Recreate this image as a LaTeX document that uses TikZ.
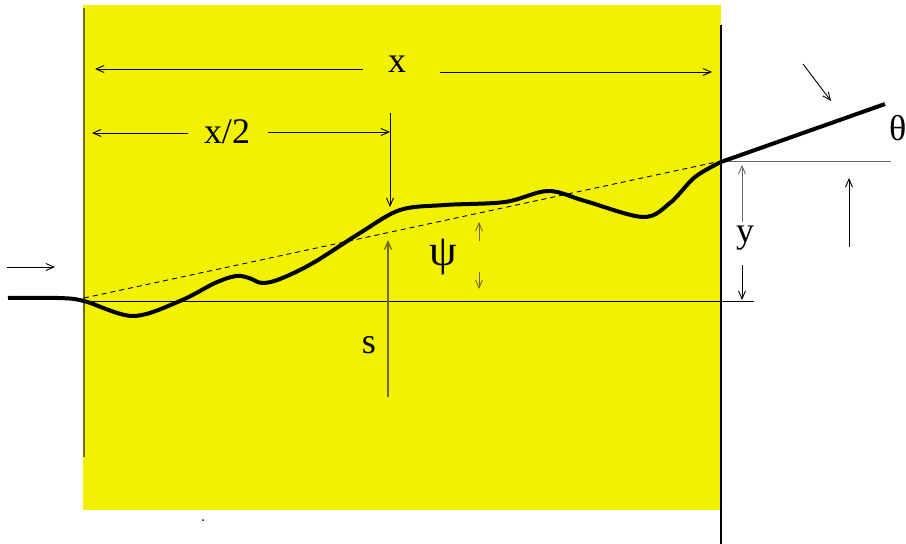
\documentclass[tikz,border=0pt]{standalone}
\usepackage{fontspec}
\setmainfont{Liberation Serif}
\usetikzlibrary{arrows.meta}
\definecolor{yel}{RGB}{242,242,0}
\definecolor{olivel}{RGB}{115,105,35}
\begin{document}
\begin{tikzpicture}[x=1pt,y=-1pt,
  dim/.style={line width=0.9pt,-{Straight Barb[length=8pt,width=7pt]}},
  lbl/.style={font=\fontsize{36}{40}\selectfont, inner sep=0pt},
  curve/.style={line width=4pt, line join=round}]
\useasboundingbox (0,0) rectangle (906,544);
% yellow panel
\fill[yel] (83,5) rectangle (721,510);
% frame lines
\coordinate (LT) at (84,8);   \coordinate (LB) at (84,457);
\coordinate (RT) at (721,25); \coordinate (RB) at (721,544);
\draw[olivel, line width=1.6pt] (LT) -- (LB);
\draw[line width=1.2pt] (RT) -- (RB);
\coordinate (BL) at (84,301); \coordinate (BR) at (754,301);
\draw[line width=1pt] (BL) -- (BR);
\coordinate (TL) at (721,161); \coordinate (TR) at (891,161);
\draw[line width=1pt, black!60] (TL) -- (TR);
\coordinate (DA) at (84,298); \coordinate (DB) at (721,161);
\draw[line width=0.9pt, dash pattern=on 5pt off 4pt] (DA) -- (DB);
% curve
\draw[curve] plot[smooth, tension=0.55] coordinates {(8,298) (58,298) (84,301) (133,316) (180,301) (215,283) (236,276) (249,278) (262,283) (280,279) (313,263) (360,233) (400,210) (445,205) (505,202) (548,191) (585,201) (643,217) (670,203) (695,177) (721,162)} -- (885,104);
% labels
\node[lbl] (tx) at (397,64) {x};
\node[lbl] (txh) at (227,132) {x/2};
\node[lbl] (ts) at (369,345) {s};
\node[lbl, font=\fontsize{44}{48}\selectfont] (tpsi) at (443,257) {ψ};
\node[lbl] (ty) at (745,238) {y};
\node[lbl, anchor=west] (tth) at (889,128) {θ};
% x dimension
\coordinate (x1a) at (363,69); \coordinate (x1b) at (95,69);
\coordinate (x2a) at (440,72); \coordinate (x2b) at (712,72);
\draw[dim] (x1a) -- (x1b);
\draw[dim] (x2a) -- (x2b);
% x/2 dimension
\coordinate (h1a) at (188,133); \coordinate (h1b) at (92,133);
\coordinate (h2a) at (268,132); \coordinate (h2b) at (390,132);
\draw[dim] (h1a) -- (h1b);
\draw[dim] (h2a) -- (h2b);
\coordinate (va) at (390,113); \coordinate (vb) at (390,207);
\draw[dim] (va) -- (vb);
% s arrow
\coordinate (sa) at (388,397); \coordinate (sb) at (388,240);
\draw[dim, olivel, line width=1.3pt] (sa) -- (sb);
% psi arrows
\coordinate (p1a) at (479,241); \coordinate (p1b) at (479,222);
\coordinate (p2a) at (479,272); \coordinate (p2b) at (479,289);
\draw[dim, olivel] (p1a) -- (p1b);
\draw[dim, olivel] (p2a) -- (p2b);
% y arrows
\coordinate (y1a) at (742,222); \coordinate (y1b) at (742,165);
\coordinate (y2a) at (742,265); \coordinate (y2b) at (742,300);
\draw[dim, black!60] (y1a) -- (y1b);
\draw[dim] (y2a) -- (y2b);
% right arrow
\coordinate (ra) at (849,247); \coordinate (rb) at (849,178);
\draw[dim] (ra) -- (rb);
% diagonal arrow
\coordinate (da) at (803,64); \coordinate (db) at (831,101);
\draw[dim] (da) -- (db);
% left arrow
\coordinate (la) at (7,267); \coordinate (lb) at (55,267);
\draw[dim] (la) -- (lb);
% dot
\fill (203,520) circle (1pt);
\end{tikzpicture}
\end{document}
